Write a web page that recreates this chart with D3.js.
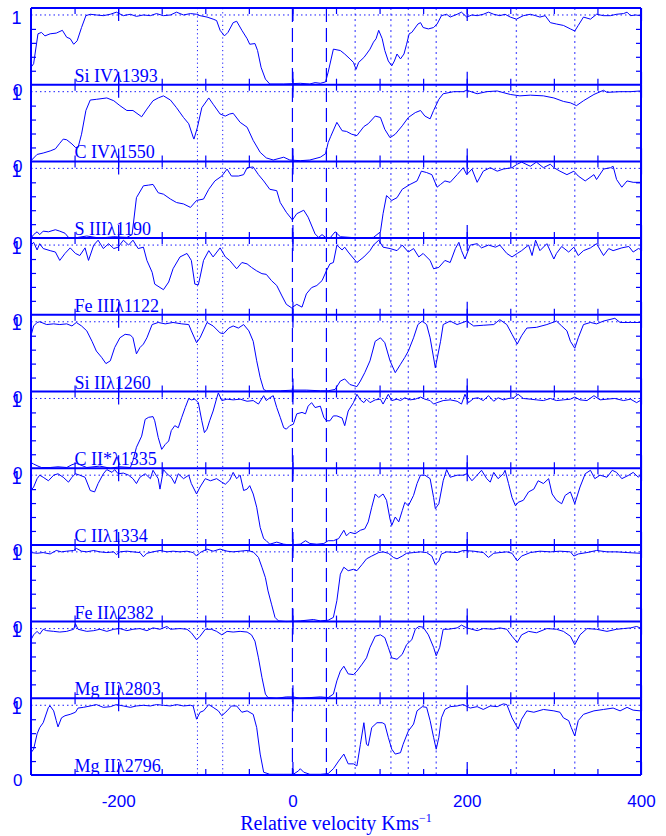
<!DOCTYPE html>
<html>
<head>
<meta charset="utf-8">
<script src="https://cdn.jsdelivr.net/npm/d3@7"></script>
<style>
  body { margin: 0; background: #fff; }
  svg { display: block; }
</style>
</head>
<body>
<div id="chart"></div>
<script>
// velocity (km/s), normalised flux
const siIV1393 = [[-300,0.25],[-297,0.30],[-292,0.73],[-288,0.75],[-284,0.70],[-278,0.73],[-271,0.74],[-264,0.78],[-259,0.68],[-255,0.66],[-251,0.58],[-247,0.63],[-242,0.82],[-237,0.99],[-232,1.01],[-225,1.0],[-217,0.99],[-209,1.01],[-202,1.04],[-194,0.99],[-186,1.01],[-179,0.98],[-171,1.0],[-163,0.99],[-156,1.02],[-148,0.99],[-140,1.0],[-133,1.04],[-125,1.0],[-117,1.02],[-110,1.01],[-106,0.99],[-98,0.97],[-91,0.94],[-87,0.92],[-83,0.78],[-78,0.70],[-74,0.75],[-68,0.89],[-64,0.91],[-58,0.78],[-52,0.66],[-49,0.58],[-43,0.59],[-40,0.49],[-36,0.25],[-31,0.08],[-26,0.01],[-10,0.01],[9,0.02],[20,0.01],[26,0.03],[32,0.02],[38,0.04],[41,0.18],[47,0.51],[55,0.49],[60,0.44],[66,0.37],[70,0.32],[73,0.22],[76,0.32],[82,0.39],[85,0.44],[89,0.51],[93,0.61],[96,0.66],[99,0.78],[103,0.66],[106,0.49],[110,0.34],[114,0.27],[117,0.34],[120,0.44],[124,0.37],[128,0.44],[131,0.58],[134,0.73],[137,0.75],[144,0.87],[147,0.89],[150,0.82],[156,0.80],[162,0.82],[166,0.87],[171,0.99],[177,1.01],[181,0.97],[189,1.01],[194,1.04],[200,0.97],[206,1.0],[212,0.99],[219,1.01],[225,1.04],[231,1.01],[238,0.99],[244,1.01],[250,0.97],[257,0.94],[265,0.99],[273,1.01],[279,0.99],[284,0.97],[290,0.99],[296,0.89],[303,0.87],[311,0.85],[319,0.80],[324,0.77],[328,0.85],[334,0.97],[342,0.94],[349,1.01],[357,0.99],[365,0.99],[372,1.01],[380,1.02],[384,1.04],[388,0.99],[394,1.0],[399,0.99]];

const cIV1550 = [[-300,0.01],[-293,0.10],[-286,0.12],[-278,0.15],[-272,0.18],[-267,0.26],[-263,0.32],[-259,0.31],[-253,0.25],[-249,0.20],[-246,0.20],[-242,0.39],[-237,0.73],[-232,0.88],[-225,0.89],[-213,0.91],[-205,0.87],[-198,0.80],[-190,0.73],[-183,0.73],[-173,0.64],[-167,0.75],[-160,0.87],[-154,0.91],[-148,0.94],[-140,0.88],[-133,0.77],[-125,0.63],[-119,0.54],[-114,0.35],[-113,0.32],[-109,0.49],[-104,0.77],[-96,0.91],[-91,0.82],[-83,0.68],[-77,0.65],[-72,0.68],[-68,0.69],[-60,0.56],[-52,0.49],[-45,0.30],[-37,0.13],[-30,0.05],[-22,0.02],[-10,0.06],[-3,0.02],[9,0.01],[20,0.02],[32,0.06],[38,0.11],[41,0.27],[44,0.36],[51,0.56],[57,0.44],[62,0.43],[68,0.39],[74,0.37],[82,0.50],[87,0.54],[95,0.65],[101,0.63],[106,0.46],[112,0.34],[118,0.39],[126,0.51],[133,0.63],[141,0.70],[147,0.73],[152,0.65],[158,0.61],[162,0.73],[168,0.89],[173,0.97],[185,1.0],[196,1.0],[200,1.02],[212,0.97],[223,1.0],[235,1.01],[250,0.96],[261,0.94],[273,0.95],[288,0.94],[300,0.91],[311,0.86],[319,0.84],[326,0.80],[334,0.87],[346,0.96],[357,1.02],[361,0.99],[376,1.0],[388,1.0],[399,1.01]];

const sIII1190 = [[-300,0.0],[-297,0.05],[-293,0.09],[-290,0.05],[-286,0.10],[-280,0.09],[-272,0.12],[-267,0.10],[-261,0.07],[-257,0.01],[-251,0.0],[-236,0.03],[-221,0.0],[-205,0.02],[-190,0.01],[-184,0.05],[-179,0.58],[-171,0.75],[-165,0.76],[-160,0.77],[-154,0.65],[-148,0.63],[-140,0.56],[-133,0.51],[-125,0.49],[-117,0.44],[-110,0.54],[-102,0.56],[-96,0.70],[-89,0.82],[-81,0.89],[-75,0.99],[-70,0.89],[-62,0.89],[-56,0.91],[-52,1.01],[-45,1.02],[-39,0.91],[-33,0.82],[-26,0.70],[-18,0.68],[-14,0.51],[-7,0.37],[0,0.26],[5,0.35],[13,0.40],[18,0.30],[26,0.06],[30,0.01],[34,0.05],[38,0.01],[43,0.0],[49,0.09],[55,0.02],[66,0.01],[78,0.0],[93,0.01],[101,0.09],[104,0.35],[108,0.61],[114,0.54],[120,0.58],[126,0.70],[135,0.77],[143,0.82],[148,0.96],[154,0.94],[160,0.91],[166,0.73],[170,0.77],[175,0.82],[181,0.80],[189,0.91],[196,1.01],[200,0.91],[206,0.99],[212,0.80],[219,0.96],[227,1.01],[235,0.96],[242,0.99],[252,1.01],[258,1.06],[263,1.09],[273,1.03],[280,1.09],[288,1.01],[296,1.06],[300,1.01],[307,0.96],[315,0.91],[323,0.96],[328,0.89],[336,0.82],[346,0.91],[349,0.84],[357,0.99],[365,1.01],[368,1.03],[372,0.84],[378,0.73],[384,0.82],[391,0.80],[399,0.80]];

const feIII1122 = [[-300,1.0],[-297,1.04],[-293,0.93],[-290,1.02],[-286,0.95],[-278,0.92],[-272,0.90],[-267,0.78],[-261,0.88],[-255,0.96],[-249,0.88],[-244,0.85],[-238,0.96],[-234,0.78],[-228,1.0],[-223,1.07],[-217,0.95],[-211,1.02],[-205,0.95],[-200,0.97],[-194,1.07],[-188,1.0],[-183,1.07],[-177,0.95],[-171,0.97],[-167,0.78],[-161,0.61],[-158,0.44],[-148,0.36],[-142,0.47],[-137,0.66],[-129,0.83],[-121,0.88],[-116,0.78],[-112,0.44],[-108,0.43],[-106,0.54],[-102,0.78],[-96,0.92],[-91,0.83],[-83,0.96],[-77,0.83],[-72,0.78],[-64,0.66],[-58,0.75],[-52,0.73],[-47,0.68],[-41,0.63],[-35,0.59],[-30,0.58],[-24,0.49],[-18,0.42],[-12,0.27],[-7,0.15],[-1,0.10],[5,0.15],[11,0.11],[16,0.30],[22,0.39],[28,0.42],[34,0.49],[39,0.63],[43,0.73],[47,0.75],[51,1.0],[57,0.93],[60,0.97],[64,0.90],[74,0.75],[82,0.83],[89,0.92],[93,1.0],[99,1.07],[104,0.97],[112,0.95],[120,0.92],[126,1.0],[133,0.90],[139,0.95],[145,0.83],[150,0.88],[158,0.78],[162,0.66],[168,0.68],[175,0.78],[181,0.75],[187,0.95],[191,1.04],[194,0.92],[198,0.80],[204,1.0],[212,1.02],[217,0.96],[225,1.0],[233,0.97],[238,1.0],[246,0.88],[252,0.83],[258,0.88],[263,0.92],[271,1.0],[275,0.85],[279,1.07],[284,0.92],[292,1.02],[300,0.80],[303,0.88],[309,0.98],[317,0.90],[323,0.97],[328,0.85],[334,0.92],[342,0.96],[349,1.02],[357,0.85],[363,0.95],[368,0.92],[378,0.96],[386,0.98],[391,0.90],[397,0.95],[399,0.94]];

const siII1260 = [[-300,0.80],[-297,0.94],[-293,0.99],[-290,1.0],[-282,0.96],[-274,0.97],[-267,0.96],[-259,0.97],[-253,0.94],[-248,0.99],[-242,0.94],[-236,0.87],[-230,0.72],[-225,0.58],[-219,0.49],[-214,0.40],[-209,0.44],[-204,0.63],[-198,0.77],[-192,0.82],[-186,0.81],[-183,0.77],[-179,0.54],[-175,0.63],[-171,0.68],[-167,0.77],[-161,0.96],[-154,0.99],[-146,0.97],[-137,0.99],[-127,0.97],[-119,0.96],[-116,0.87],[-110,0.70],[-106,0.77],[-98,0.99],[-91,0.94],[-83,0.84],[-79,0.83],[-73,0.91],[-68,0.94],[-62,0.91],[-56,0.96],[-50,0.87],[-45,0.72],[-41,0.44],[-37,0.20],[-33,0.03],[-30,0.01],[-14,0.01],[1,0.02],[16,0.02],[32,0.01],[41,0.01],[49,0.03],[55,0.15],[60,0.18],[66,0.10],[74,0.07],[78,0.15],[83,0.27],[89,0.44],[95,0.72],[101,0.77],[106,0.70],[112,0.44],[118,0.27],[124,0.39],[129,0.49],[133,0.58],[139,0.77],[144,0.96],[149,1.01],[154,0.96],[158,0.77],[164,0.34],[170,0.72],[173,0.96],[181,1.01],[189,0.96],[200,1.01],[208,0.94],[219,0.95],[231,0.96],[238,1.03],[246,0.96],[252,0.82],[258,0.68],[263,0.80],[269,0.91],[280,0.92],[292,0.96],[303,1.01],[309,0.94],[315,0.87],[319,0.72],[324,0.62],[328,0.77],[334,0.96],[342,0.99],[349,0.97],[357,1.01],[370,1.05],[376,0.99],[388,0.99],[399,0.99]];

const cIIs1335 = [[-300,0.08],[-297,0.06],[-292,0.03],[-288,0.01],[-278,0.01],[-269,0.02],[-259,0.01],[-253,0.05],[-248,0.07],[-236,0.01],[-221,0.03],[-209,0.0],[-198,0.02],[-186,0.01],[-183,0.11],[-179,0.30],[-173,0.46],[-169,0.70],[-165,0.73],[-160,0.74],[-158,0.68],[-154,0.44],[-150,0.27],[-146,0.34],[-142,0.39],[-139,0.54],[-135,0.61],[-131,0.58],[-127,0.73],[-123,0.87],[-119,1.0],[-116,0.98],[-112,0.99],[-108,0.94],[-104,0.68],[-101,0.51],[-98,0.56],[-95,0.68],[-91,0.82],[-87,1.0],[-85,1.08],[-81,0.97],[-75,0.99],[-68,0.98],[-60,0.99],[-52,0.96],[-45,0.97],[-39,0.92],[-33,1.04],[-30,0.97],[-26,1.01],[-22,1.04],[-18,0.87],[-14,0.73],[-10,0.58],[-7,0.56],[-3,0.61],[1,0.63],[5,0.78],[11,0.80],[15,0.78],[18,0.89],[22,0.94],[26,0.87],[32,0.89],[36,0.73],[39,0.68],[43,0.68],[47,0.75],[51,0.75],[57,0.72],[60,0.61],[64,0.82],[70,0.94],[74,1.06],[78,0.98],[82,0.94],[85,0.99],[89,0.94],[95,0.98],[101,0.99],[104,0.92],[110,1.06],[114,0.97],[120,0.99],[124,0.97],[129,1.01],[135,0.98],[141,0.99],[147,1.02],[152,0.99],[158,0.97],[162,0.92],[166,0.94],[173,0.97],[181,0.98],[189,0.96],[194,0.92],[198,1.06],[202,0.94],[208,1.0],[213,1.01],[219,0.97],[225,1.04],[231,0.96],[236,1.01],[242,0.98],[248,1.0],[254,1.01],[259,1.06],[265,1.0],[273,0.99],[280,0.98],[288,0.97],[296,1.0],[303,0.97],[311,0.98],[319,0.99],[324,1.02],[330,0.98],[338,0.97],[346,1.04],[353,0.98],[361,0.99],[370,1.0],[380,0.97],[388,0.99],[395,0.94],[399,0.97]];

const cII1334 = [[-300,0.78],[-297,0.83],[-293,0.95],[-290,1.0],[-286,0.97],[-280,0.92],[-274,1.0],[-269,1.02],[-263,0.97],[-257,0.90],[-253,0.97],[-249,1.02],[-244,1.0],[-238,0.97],[-232,0.78],[-227,0.76],[-223,0.88],[-217,1.02],[-213,1.08],[-207,1.04],[-204,1.08],[-200,1.02],[-194,1.03],[-188,1.0],[-183,0.95],[-179,0.88],[-175,0.97],[-169,1.02],[-163,0.95],[-160,1.07],[-154,0.95],[-152,0.80],[-148,1.08],[-144,1.02],[-139,0.97],[-135,0.88],[-131,1.02],[-125,0.95],[-119,1.0],[-116,0.88],[-110,0.73],[-106,0.83],[-100,0.95],[-94,0.92],[-87,0.95],[-81,0.90],[-77,0.87],[-72,0.93],[-68,1.04],[-64,0.95],[-60,1.0],[-56,0.78],[-52,0.80],[-49,0.85],[-45,0.73],[-41,0.54],[-37,0.25],[-33,0.09],[-30,0.06],[-26,0.01],[-18,0.04],[-10,0.01],[-3,0.0],[9,0.01],[15,0.06],[20,0.02],[28,0.01],[36,0.02],[41,0.06],[47,0.06],[53,0.09],[59,0.21],[62,0.13],[66,0.18],[72,0.16],[78,0.21],[83,0.23],[87,0.33],[91,0.54],[95,0.73],[99,0.68],[104,0.73],[108,0.64],[112,0.37],[114,0.28],[118,0.40],[122,0.33],[126,0.49],[129,0.61],[133,0.56],[139,0.71],[143,0.88],[147,1.0],[152,1.0],[158,0.95],[162,0.68],[164,0.52],[168,0.59],[173,0.92],[177,1.08],[181,0.97],[189,1.0],[196,1.0],[200,1.02],[206,0.92],[212,1.0],[217,1.07],[223,0.95],[227,0.90],[231,1.04],[236,0.95],[242,1.02],[244,1.07],[248,0.88],[252,0.68],[256,0.56],[259,0.61],[265,0.64],[271,0.76],[277,0.80],[282,0.92],[288,0.88],[294,0.95],[298,0.73],[303,0.64],[309,0.59],[313,0.71],[319,0.76],[324,0.59],[330,0.83],[336,1.02],[342,1.07],[347,0.95],[353,1.0],[361,0.97],[367,1.07],[372,1.04],[378,0.95],[386,1.0],[391,1.04],[397,0.97],[399,1.0]];

const feII2382 = [[-300,0.99],[-293,0.98],[-286,0.99],[-278,0.97],[-271,1.02],[-265,1.0],[-259,1.01],[-251,1.02],[-248,1.05],[-242,1.01],[-236,1.0],[-228,1.02],[-221,1.0],[-213,0.99],[-205,1.0],[-202,0.96],[-198,1.0],[-190,1.01],[-183,1.0],[-175,0.99],[-171,0.93],[-167,0.98],[-160,1.0],[-152,1.02],[-144,1.0],[-137,1.01],[-129,1.0],[-121,1.01],[-114,0.99],[-110,0.94],[-106,0.99],[-98,1.04],[-91,1.01],[-83,1.04],[-75,1.01],[-68,1.0],[-60,1.01],[-52,1.02],[-45,1.0],[-39,0.92],[-35,0.78],[-31,0.63],[-28,0.44],[-24,0.25],[-20,0.06],[-16,0.01],[-7,0.0],[9,0.01],[24,0.03],[32,0.01],[41,0.02],[47,0.06],[51,0.30],[55,0.68],[59,0.78],[64,0.73],[70,0.75],[74,0.73],[80,0.82],[85,0.90],[91,0.94],[99,0.99],[104,1.0],[110,0.98],[116,0.92],[120,0.90],[126,0.94],[131,0.98],[139,0.99],[147,1.0],[154,0.99],[160,0.94],[164,0.82],[168,0.87],[171,0.97],[177,1.0],[189,0.99],[196,1.02],[208,1.01],[219,0.99],[225,0.92],[231,0.98],[238,0.99],[246,1.0],[252,0.98],[258,0.87],[263,0.94],[273,0.99],[284,1.01],[296,1.0],[307,1.01],[319,1.0],[323,0.94],[328,0.97],[338,0.99],[349,1.02],[361,1.0],[372,1.0],[384,0.99],[399,0.98]];

const mgII2803 = [[-300,0.84],[-297,0.91],[-293,0.96],[-290,0.92],[-286,0.99],[-282,0.97],[-274,0.96],[-267,0.95],[-259,0.96],[-251,0.99],[-249,1.07],[-246,0.99],[-236,0.96],[-228,0.97],[-221,0.99],[-213,0.96],[-205,0.99],[-198,1.0],[-190,0.97],[-183,0.99],[-175,1.0],[-167,0.97],[-160,1.01],[-152,0.99],[-144,1.03],[-140,0.99],[-129,1.0],[-121,0.99],[-116,0.94],[-110,0.84],[-106,0.89],[-100,0.99],[-93,0.99],[-87,0.96],[-81,0.91],[-75,0.96],[-68,0.95],[-60,0.96],[-52,0.95],[-47,0.91],[-43,0.82],[-39,0.58],[-35,0.30],[-31,0.06],[-28,0.01],[-18,0.0],[-7,0.02],[1,0.02],[9,0.0],[20,0.01],[32,0.02],[41,0.01],[47,0.06],[51,0.25],[55,0.39],[59,0.46],[64,0.35],[70,0.34],[74,0.39],[80,0.49],[85,0.58],[89,0.73],[95,0.89],[101,0.91],[106,0.87],[110,0.73],[114,0.58],[120,0.56],[126,0.63],[131,0.77],[137,0.84],[141,0.99],[145,1.03],[150,1.02],[156,0.91],[162,0.73],[165,0.61],[169,0.73],[173,0.99],[179,0.99],[189,1.01],[194,1.05],[200,1.01],[212,0.97],[219,1.0],[231,0.99],[238,1.01],[246,0.99],[252,0.89],[258,0.80],[263,0.91],[271,0.96],[280,0.94],[292,1.0],[303,0.99],[311,0.96],[319,0.89],[324,0.77],[330,0.91],[338,1.0],[349,0.99],[361,0.96],[372,0.99],[380,1.0],[388,1.01],[395,1.03],[399,1.01]];

const mgII2796 = [[-300,0.32],[-297,0.37],[-293,0.59],[-290,0.68],[-286,0.75],[-280,0.97],[-278,0.99],[-274,0.92],[-271,0.78],[-269,0.69],[-265,0.82],[-261,0.85],[-255,0.87],[-249,0.90],[-246,0.96],[-240,0.97],[-232,0.99],[-225,1.01],[-217,0.97],[-209,0.98],[-202,1.01],[-194,0.99],[-186,0.97],[-179,0.99],[-171,1.0],[-163,0.99],[-156,1.01],[-148,1.0],[-140,0.99],[-133,1.01],[-125,0.99],[-117,1.0],[-114,0.99],[-110,0.80],[-106,0.90],[-102,0.92],[-96,1.01],[-91,0.97],[-85,0.92],[-81,0.85],[-75,0.92],[-70,0.99],[-64,0.99],[-58,0.90],[-52,0.92],[-45,0.87],[-41,0.68],[-37,0.30],[-33,0.04],[-26,0.01],[-10,0.01],[1,0.01],[7,0.06],[9,0.09],[13,0.04],[20,0.01],[32,0.01],[41,0.02],[47,0.09],[53,0.20],[59,0.30],[64,0.16],[70,0.16],[74,0.13],[78,0.44],[82,0.75],[85,0.44],[87,0.42],[91,0.68],[97,0.75],[103,0.75],[106,0.73],[110,0.54],[114,0.37],[118,0.30],[124,0.32],[127,0.44],[133,0.63],[139,0.73],[143,0.92],[149,0.98],[154,0.97],[158,0.78],[162,0.54],[165,0.37],[168,0.54],[171,0.82],[175,0.94],[181,0.98],[189,0.99],[196,1.01],[204,0.96],[212,0.98],[219,0.94],[227,0.99],[235,0.98],[242,1.02],[246,1.01],[252,0.82],[256,0.73],[259,0.66],[263,0.80],[269,0.92],[277,0.90],[288,0.94],[300,0.92],[307,0.90],[311,0.82],[317,0.78],[320,0.68],[324,0.56],[328,0.78],[334,0.87],[346,0.92],[357,0.94],[368,0.96],[376,0.92],[384,0.97],[391,0.93],[399,0.92]];

const panelLabels = ["Si IVλ1393", "C IVλ1550", "S IIIλ1190", "Fe IIIλ1122", "Si IIλ1260",
                     "C II*λ1335", "C IIλ1334", "Fe IIλ2382", "Mg IIλ2803", "Mg IIλ2796"];
const spectra = [siIV1393, cIV1550, sIII1190, feIII1122, siII1260,
                 cIIs1335, cII1334, feII2382, mgII2803, mgII2796];
const xTickLabels = [-200, 0, 200, 400];
const minorTicks = [-250, -200, -150, -100, -50, 0, 50, 100, 150, 200, 250, 300, 350];
const yTicks = [0.2, 0.4, 0.6, 0.8];
const dashedVel = [0, 39];
const darkDotVel = [-109, -80];
const blueDotVel = [72, 113, 133, 165, 257, 324];

const blue = "#0000ff";
const W = 666, H = 836;
const left = 31, right = 641, top0 = 8, panelH = 76.7;
const nPanels = spectra.length;
const bottom = top0 + nPanels * panelH;

const svg = d3.select("#chart").append("svg")
    .attr("width", W).attr("height", H)
    .style("font-family", "'Liberation Sans', Arial, sans-serif");

const x = d3.scaleLinear().domain([-300, 400]).range([left, right]);

// vertical reference lines across all panels
svg.append("g").selectAll("line").data(blueDotVel).join("line")
    .attr("x1", d => x(d)).attr("x2", d => x(d))
    .attr("y1", top0).attr("y2", bottom)
    .attr("stroke", "#5c5cff").attr("stroke-width", 1.3)
    .attr("stroke-dasharray", "2,3.5");
svg.append("g").selectAll("line").data(darkDotVel).join("line")
    .attr("x1", d => x(d)).attr("x2", d => x(d))
    .attr("y1", top0).attr("y2", bottom)
    .attr("stroke", blue).attr("stroke-width", 0.9)
    .attr("stroke-dasharray", "1.2,3");
svg.append("g").selectAll("line").data(dashedVel).join("line")
    .attr("x1", d => x(d)).attr("x2", d => x(d))
    .attr("y1", top0).attr("y2", bottom)
    .attr("stroke", blue).attr("stroke-width", 1.2)
    .attr("stroke-dasharray", "14,6");

svg.append("defs").append("clipPath").attr("id", "clip")
  .append("rect").attr("x", left).attr("y", top0).attr("width", right - left).attr("height", bottom - top0);

spectra.forEach(function(data, i) {
    const y0 = top0 + i * panelH;
    const y = d3.scaleLinear().domain([0, 1.1]).range([y0 + panelH, y0]);
    const g = svg.append("g");

    // continuum level
    g.append("line")
        .attr("x1", left).attr("x2", right)
        .attr("y1", y(1)).attr("y2", y(1))
        .attr("stroke", blue).attr("stroke-width", 0.9)
        .attr("stroke-dasharray", "1.5,3");

    // x ticks, bottom (pointing up) and top (pointing down)
    const tickAxes = [
        [d3.axisTop(x).tickValues(minorTicks).tickSize(6), y0 + panelH],
        [d3.axisTop(x).tickValues(xTickLabels).tickSize(13), y0 + panelH],
        [d3.axisBottom(x).tickValues(minorTicks).tickSize(6), y0],
        [d3.axisBottom(x).tickValues(xTickLabels).tickSize(13), y0]
    ];
    tickAxes.forEach(function(a) {
        g.append("g").attr("transform", "translate(0," + a[1] + ")")
            .call(a[0].tickFormat(""))
            .call(s => s.select(".domain").remove())
            .selectAll("line").attr("stroke", blue).attr("stroke-width", 1.2);
    });
    // y ticks on both sides
    g.append("g").attr("transform", "translate(" + left + ",0)")
        .call(d3.axisRight(y).tickValues(yTicks).tickSize(5).tickFormat(""))
        .call(s => s.select(".domain").remove())
        .selectAll("line").attr("stroke", blue).attr("stroke-width", 1.2);
    g.append("g").attr("transform", "translate(" + right + ",0)")
        .call(d3.axisLeft(y).tickValues(yTicks).tickSize(5).tickFormat(""))
        .call(s => s.select(".domain").remove())
        .selectAll("line").attr("stroke", blue).attr("stroke-width", 1.2);

    // spectrum
    g.append("path").datum(data)
        .attr("clip-path", "url(#clip)")
        .attr("fill", "none").attr("stroke", blue).attr("stroke-width", 1)
        .attr("stroke-linejoin", "round")
        .attr("d", d3.line().x(d => x(d[0])).y(d => y(d[1])));

    // ion label
    g.append("text")
        .attr("x", x(-250)).attr("y", y(0) - 3)
        .attr("fill", blue)
        .style("font-family", "'Liberation Serif', 'Times New Roman', serif")
        .style("font-size", "18px")
        .text(panelLabels[i]);

    // y labels 0 and 1 (drawn hanging just under their level, as in the original)
    g.append("text").attr("x", 22.5).attr("y", y(0) + 11)
        .attr("text-anchor", "end").attr("fill", blue)
        .style("font-size", "17px").text("0");
    g.append("text").attr("x", 21.5).attr("y", y0 + 15.5)
        .attr("text-anchor", "end").attr("fill", blue)
        .style("font-size", "18px").text("1");

    // panel separator
    g.append("line")
        .attr("x1", left).attr("x2", right)
        .attr("y1", y0 + panelH).attr("y2", y0 + panelH)
        .attr("stroke", blue).attr("stroke-width", 2);
});

// frame
svg.append("line").attr("x1", left).attr("x2", right).attr("y1", top0).attr("y2", top0)
    .attr("stroke", blue).attr("stroke-width", 2);
svg.append("line").attr("x1", left).attr("x2", left).attr("y1", top0).attr("y2", bottom)
    .attr("stroke", blue).attr("stroke-width", 2);
svg.append("line").attr("x1", right).attr("x2", right).attr("y1", top0).attr("y2", bottom)
    .attr("stroke", blue).attr("stroke-width", 2);

// velocity labels
svg.append("g").attr("transform", "translate(0," + bottom + ")")
    .call(d3.axisBottom(x).tickValues(xTickLabels).tickSize(0).tickPadding(20)
        .tickFormat(d => String(d)))
    .call(s => s.select(".domain").remove())
    .selectAll("text")
    .attr("fill", blue)
    .style("font-family", "'Liberation Sans', Arial, sans-serif")
    .style("font-size", "17px");

const title = svg.append("text")
    .attr("x", (left + right) / 2).attr("y", 830)
    .attr("text-anchor", "middle").attr("fill", blue)
    .style("font-family", "'Liberation Serif', 'Times New Roman', serif")
    .style("font-size", "20px");
title.append("tspan").text("Relative velocity Kms");
title.append("tspan").attr("dy", -8).style("font-size", "12px").text("−1");
</script>
</body>
</html>
